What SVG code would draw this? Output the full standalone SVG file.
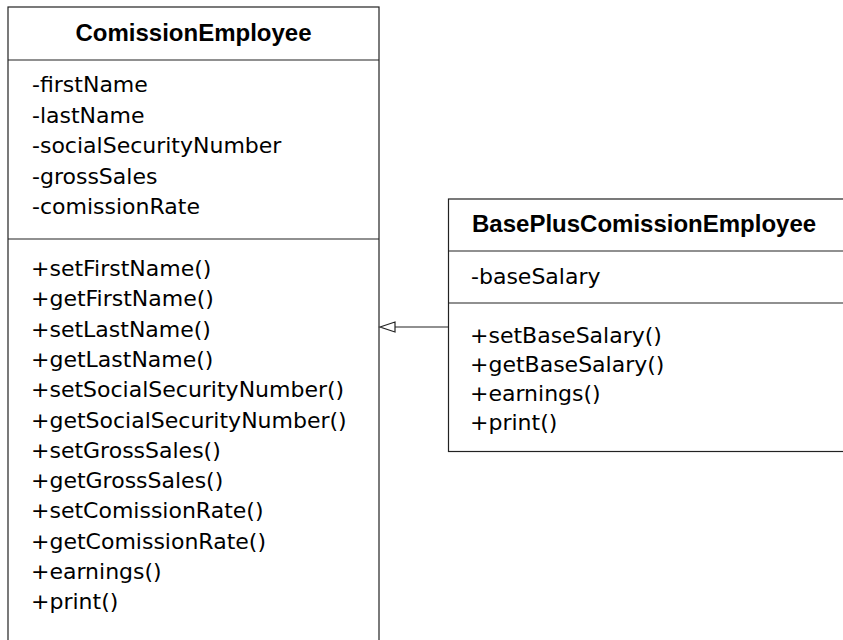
<svg xmlns="http://www.w3.org/2000/svg" width="843" height="640" viewBox="0 0 843 640">
<defs>
<style>
.box{fill:#fff;stroke:#222;stroke-width:1.2}
.sep{stroke:#222;stroke-width:1.2}
.title{font-family:"Liberation Sans",Arial,sans-serif;font-weight:bold;font-size:24px;fill:#000}
.item{font-family:"DejaVu Sans",sans-serif;font-size:22px;fill:#000}
.conn{stroke:#222;stroke-width:1.2;fill:none}
.head{fill:#fff;stroke:#222;stroke-width:1.2}
</style>
</defs>
<rect width="843" height="640" fill="#fff"/>
<g id="ComissionEmployee">
<rect class="box" x="8" y="7" width="371" height="660"/>
<line class="sep" x1="8" y1="60" x2="379" y2="60"/>
<line class="sep" x1="8" y1="239" x2="379" y2="239"/>
<text class="title" x="193.5" y="41" text-anchor="middle">ComissionEmployee</text>
<text class="item" x="32">
<tspan x="32" y="92">-firstName</tspan>
<tspan x="32" y="122.5">-lastName</tspan>
<tspan x="32" y="153">-socialSecurityNumber</tspan>
<tspan x="32" y="183.5">-grossSales</tspan>
<tspan x="32" y="214">-comissionRate</tspan>
</text>
<text class="item" x="31">
<tspan x="31" y="276">+setFirstName()</tspan>
<tspan x="31" y="306.3">+getFirstName()</tspan>
<tspan x="31" y="336.6">+setLastName()</tspan>
<tspan x="31" y="366.9">+getLastName()</tspan>
<tspan x="31" y="397.2">+setSocialSecurityNumber()</tspan>
<tspan x="31" y="427.5">+getSocialSecurityNumber()</tspan>
<tspan x="31" y="457.8">+setGrossSales()</tspan>
<tspan x="31" y="488.1">+getGrossSales()</tspan>
<tspan x="31" y="518.4">+setComissionRate()</tspan>
<tspan x="31" y="548.7">+getComissionRate()</tspan>
<tspan x="31" y="579">+earnings()</tspan>
<tspan x="31" y="609.3">+print()</tspan>
</text>
</g>
<g id="BasePlusComissionEmployee">
<rect class="box" x="448.5" y="199" width="400" height="252.5"/>
<line class="sep" x1="448.5" y1="251" x2="848" y2="251"/>
<line class="sep" x1="448.5" y1="303" x2="848" y2="303"/>
<text class="title" x="472" y="232">BasePlusComissionEmployee</text>
<text class="item" x="471" y="284">-baseSalary</text>
<text class="item" x="470">
<tspan x="470" y="343">+setBaseSalary()</tspan>
<tspan x="470" y="372">+getBaseSalary()</tspan>
<tspan x="470" y="401">+earnings()</tspan>
<tspan x="470" y="430">+print()</tspan>
</text>
</g>
<g id="connectors">
<line class="conn" x1="448.5" y1="327" x2="395" y2="327"/>
<polygon class="head" points="380,327 395,322 395,332"/>
</g>
</svg>
